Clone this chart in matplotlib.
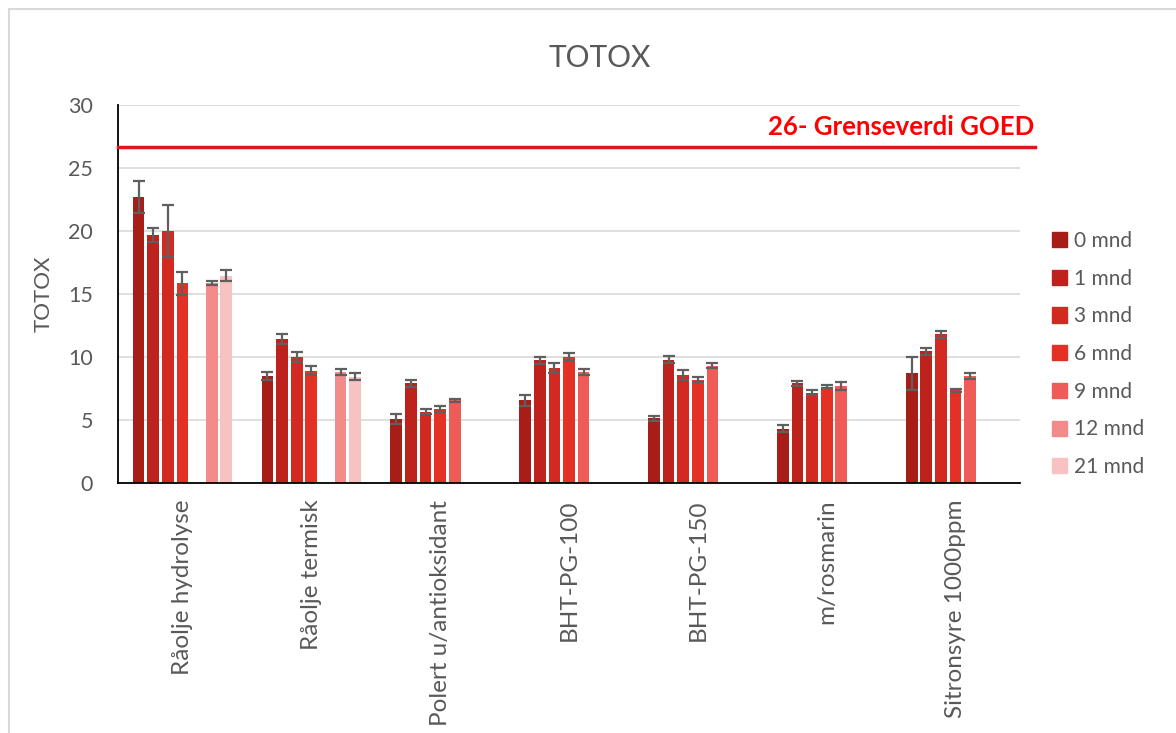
import numpy as np
import matplotlib.pyplot as plt
from matplotlib.patches import Patch, Rectangle

plt.rcParams['font.family'] = ['Lato', 'DejaVu Sans']

# Categories and series
categories = ['Råolje hydrolyse', 'Råolje termisk', 'Polert u/antioksidant',
              'BHT-PG-100', 'BHT-PG-150', 'm/rosmarin', 'Sitronsyre 1000ppm']
series_labels = ['0 mnd', '1 mnd', '3 mnd', '6 mnd', '9 mnd', '12 mnd', '21 mnd']
nan = np.nan

m0 = [22.7, 8.5, 5.05, 6.55, 5.15, 4.3, 8.7]
m0_err = [1.3, 0.3, 0.4, 0.45, 0.2, 0.27, 1.3]
m1 = [19.7, 11.4, 7.9, 9.75, 9.8, 7.9, 10.45]
m1_err = [0.55, 0.4, 0.3, 0.27, 0.25, 0.2, 0.28]
m3 = [20.0, 10.0, 5.65, 9.15, 8.6, 7.15, 11.8]
m3_err = [2.1, 0.4, 0.2, 0.4, 0.4, 0.2, 0.27]
m6 = [15.85, 8.9, 5.85, 10.0, 8.2, 7.65, 7.35]
m6_err = [0.9, 0.35, 0.25, 0.28, 0.2, 0.14, 0.15]
m9 = [nan, nan, 6.55, 8.8, 9.3, 7.7, 8.5]
m9_err = [nan, nan, 0.15, 0.23, 0.2, 0.35, 0.25]
m12 = [15.9, 8.8, nan, nan, nan, nan, nan]
m12_err = [0.15, 0.22, nan, nan, nan, nan, nan]
m21 = [16.45, 8.45, nan, nan, nan, nan, nan]
m21_err = [0.45, 0.3, nan, nan, nan, nan, nan]

goed_limit = 26.7
goed_label = '26- Grenseverdi GOED'

values = [m0, m1, m3, m6, m9, m12, m21]
errors = [m0_err, m1_err, m3_err, m6_err, m9_err, m12_err, m21_err]
colors = ['#A61E17', '#BD231C', '#D22A21', '#E43126', '#EF5B57', '#F28C8A', '#F7C3C2']

text_color = '#595959'

fig = plt.figure(figsize=(11.76, 7.33), dpi=100)
ax = fig.add_axes([118 / 1176, 1 - 483 / 733, (1020 - 118) / 1176, (483 - 105) / 733])

# Chart-area border
fig.patches.append(Rectangle((9 / 1176, -0.1), 1.2, 1 - 9 / 733 + 0.1, transform=fig.transFigure,
                             fill=False, edgecolor='#D9D9D9', linewidth=1.5))

x = np.arange(len(categories))
step = 0.1135
width = 0.091
for j, (vals, errs) in enumerate(zip(values, errors)):
    pos = x + (j - 3) * step
    ax.bar(pos, vals, width, color=colors[j], label=series_labels[j], zorder=2)
    ax.errorbar(pos, vals, yerr=errs, fmt='none', ecolor='#5F5F5F', elinewidth=1.6,
                capsize=4.3, capthick=1.6, zorder=3)

# Limit line
ax.plot([-0.5, 6.62], [goed_limit, goed_limit], color='#E0161B', linewidth=2.5,
        clip_on=False, zorder=4)
ax.text(6.61, goed_limit + 0.6, goed_label, color='#FF0000', fontsize=18.5,
        fontweight='bold', ha='right', va='bottom')

ax.set_xlim(-0.5, 6.5)
ax.set_ylim(0, 30)
ax.set_yticks(np.arange(0, 31, 5))
ax.yaxis.grid(True, color='#D9D9D9', linewidth=1.2, zorder=0)
ax.set_axisbelow(True)
ax.set_xticks(x)
ax.set_xticklabels(categories, rotation=90, ha='center', va='top')
ax.tick_params(axis='both', length=0, labelsize=15.5, colors=text_color)
ax.tick_params(axis='x', labelsize=17.5, pad=12)
ax.tick_params(axis='y', pad=18)
for s in ['top', 'right']:
    ax.spines[s].set_visible(False)
for s in ['left', 'bottom']:
    ax.spines[s].set_color('#000000')
    ax.spines[s].set_linewidth(1.3)

ax.set_ylabel('TOTOX', fontsize=16, color=text_color)
ax.yaxis.set_label_coords(-64 / 902, 0.5)

fig.text(600 / 1176, 1 - 58 / 733, 'TOTOX', fontsize=21.5, color=text_color,
         ha='center', va='center')

handles = [Patch(color=c) for c in colors]
leg = fig.legend(handles, series_labels, loc='center left',
                 bbox_to_anchor=(1033 / 1176, 1 - 354 / 733), frameon=False,
                 fontsize=15, handlelength=0.75, handleheight=0.75,
                 handletextpad=0.3, labelspacing=0.85)
for t in leg.get_texts():
    t.set_color(text_color)

fig.savefig('out.png', dpi=100)
